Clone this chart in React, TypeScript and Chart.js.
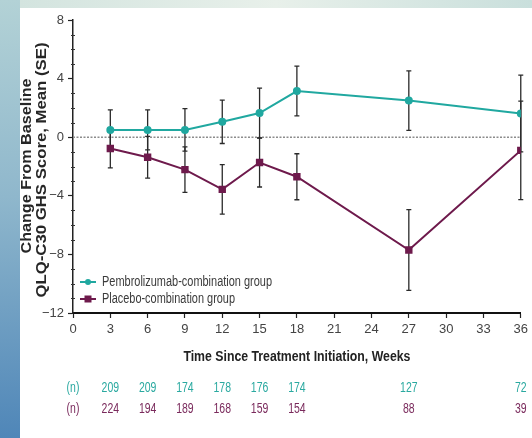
import React, { useEffect, useRef } from 'react';
import { Chart, registerables } from 'chart.js';

Chart.register(...registerables);

const weeks = [3, 6, 9, 12, 15, 18, 27, 36];
const pembroMean = [0.5, 0.5, 0.5, 1.05, 1.65, 3.15, 2.5, 1.62];
const pembroSE = [1.37, 1.37, 1.45, 1.48, 1.7, 1.7, 2.03, 2.62];
const placeboMean = [-0.77, -1.37, -2.21, -3.56, -1.73, -2.7, -7.7, -0.9];
const placeboSE = [1.33, 1.43, 1.55, 1.69, 1.67, 1.57, 2.75, 3.36];
const pembroN = ['209', '209', '174', '178', '176', '174', '127', '72'];
const placeboN = ['224', '194', '189', '168', '159', '154', '88', '39'];
const seriesLabels = ['Pembrolizumab-combination group', 'Placebo-combination group'];
const xTitle = 'Time Since Treatment Initiation, Weeks';
const yTitle = ['Change From Baseline', 'QLQ-C30 GHS Score, Mean (SE)'];

const TEAL = '#20a8a0';
const PURPLE = '#6e1a4c';
const TEAL_TXT = '#2aa9a0';
const PURPLE_TXT = '#7a2a5c';
const SANS = '"Liberation Sans", Arial, sans-serif';

function fitText(ctx: CanvasRenderingContext2D, text: string, x: number, y: number, w: number, align: CanvasTextAlign) {
  const m = ctx.measureText(text).width;
  const s = w / m;
  ctx.save();
  ctx.translate(x, y);
  ctx.scale(s, 1);
  ctx.textAlign = align;
  ctx.fillText(text, 0, 0);
  ctx.restore();
}

const overlay = {
  id: 'overlay',
  beforeDatasetsDraw(chart: any) {
    const { ctx, chartArea } = chart;
    const x = chart.scales.x;
    const y = chart.scales.y;
    const y0 = y.getPixelForValue(0);
    ctx.save();
    ctx.strokeStyle = '#8c8c8c';
    ctx.lineWidth = 1.5;
    ctx.setLineDash([2, 1.5]);
    ctx.beginPath();
    ctx.moveTo(chartArea.left, y0);
    ctx.lineTo(chartArea.right, y0);
    ctx.stroke();
    ctx.setLineDash([]);
    const groups: [number[], number[]][] = [
      [pembroMean, pembroSE],
      [placeboMean, placeboSE],
    ];
    ctx.strokeStyle = '#2a2a2a';
    ctx.lineWidth = 1.3;
    groups.forEach(([m, s]) => {
      weeks.forEach((w, i) => {
        const px = x.getPixelForValue(w);
        const top = y.getPixelForValue(m[i] + s[i]);
        const bot = y.getPixelForValue(m[i] - s[i]);
        ctx.beginPath();
        ctx.moveTo(px, top);
        ctx.lineTo(px, bot);
        ctx.moveTo(px - 2.5, top);
        ctx.lineTo(px + 2.5, top);
        ctx.moveTo(px - 2.5, bot);
        ctx.lineTo(px + 2.5, bot);
        ctx.stroke();
      });
    });
    ctx.restore();
  },
  afterDraw(chart: any) {
    const { ctx, chartArea } = chart;
    const x = chart.scales.x;
    const y = chart.scales.y;
    ctx.save();
    // minor y ticks
    ctx.strokeStyle = '#333';
    ctx.lineWidth = 1;
    for (let v = -12; v <= 8; v++) {
      if (v % 4 === 0) continue;
      const py = Math.round(y.getPixelForValue(v)) + 0.5;
      ctx.beginPath();
      ctx.moveTo(chartArea.left - 2, py);
      ctx.lineTo(chartArea.left + 2, py);
      ctx.stroke();
    }
    // legend
    const legendRows = [
      { label: seriesLabels[0], color: TEAL, y: 282, w: 170, shape: 'circle' },
      { label: seriesLabels[1], color: PURPLE, y: 299, w: 133, shape: 'rect' },
    ];
    legendRows.forEach((r) => {
      ctx.strokeStyle = r.color;
      ctx.fillStyle = r.color;
      ctx.lineWidth = 2;
      ctx.beginPath();
      ctx.moveTo(80, r.y);
      ctx.lineTo(96, r.y);
      ctx.stroke();
      ctx.beginPath();
      if (r.shape === 'circle') {
        ctx.arc(88, r.y, 3, 0, Math.PI * 2);
      } else {
        ctx.rect(84.5, r.y - 3.5, 7, 7);
      }
      ctx.fill();
      ctx.fillStyle = '#3a3a3a';
      ctx.font = '14px ' + SANS;
      ctx.textBaseline = 'middle';
      fitText(ctx, r.label, 102, r.y, r.w, 'left');
    });
    // y title
    ctx.fillStyle = '#262626';
    ctx.font = 'bold 14px ' + SANS;
    ctx.textBaseline = 'middle';
    ctx.save();
    ctx.translate(27, 166);
    ctx.rotate(-Math.PI / 2);
    fitText(ctx, yTitle[0], 0, 0, 175, 'center');
    ctx.restore();
    ctx.save();
    ctx.translate(42, 170);
    ctx.rotate(-Math.PI / 2);
    fitText(ctx, yTitle[1], 0, 0, 255, 'center');
    ctx.restore();
    // x title
    ctx.fillStyle = '#222';
    ctx.font = 'bold 14px ' + SANS;
    fitText(ctx, xTitle, (chartArea.left + chartArea.right) / 2, 357, 227, 'center');
    // n table
    ctx.font = '14px ' + SANS;
    const s = 17.5 / ctx.measureText('209').width;
    const drawN = (t: string, px: number, py: number, color: string) => {
      ctx.fillStyle = color;
      ctx.save();
      ctx.translate(px, py);
      ctx.scale(s, 1);
      ctx.textAlign = 'center';
      ctx.fillText(t, 0, 0);
      ctx.restore();
    };
    drawN('(n)', 73, 388.5, TEAL_TXT);
    drawN('(n)', 73, 409.5, PURPLE_TXT);
    weeks.forEach((w, i) => {
      const px = x.getPixelForValue(w);
      drawN(pembroN[i], px, 388.5, TEAL_TXT);
      drawN(placeboN[i], px, 409.5, PURPLE_TXT);
    });
    ctx.restore();
  },
};

export default function App() {
  const ref = useRef<HTMLCanvasElement | null>(null);
  useEffect(() => {
    if (!ref.current) return;
    const tickFont = { family: SANS, size: 13 };
    const chart = new Chart(ref.current, {
      type: 'line',
      data: {
        datasets: [
          {
            label: seriesLabels[0],
            data: weeks.map((w, i) => ({ x: w, y: pembroMean[i] })),
            borderColor: TEAL,
            backgroundColor: TEAL,
            borderWidth: 2,
            pointRadius: 3,
            pointStyle: 'circle',
            tension: 0,
          },
          {
            label: seriesLabels[1],
            data: weeks.map((w, i) => ({ x: w, y: placeboMean[i] })),
            borderColor: PURPLE,
            backgroundColor: PURPLE,
            borderWidth: 2,
            pointRadius: 3.8,
            pointStyle: 'rect',
            tension: 0,
          },
        ],
      },
      options: {
        responsive: false,
        animation: false,
        devicePixelRatio: 1,
        layout: { padding: { top: 20, right: 10, left: 0, bottom: 0 } },
        plugins: { legend: { display: false }, tooltip: { enabled: false } },
        scales: {
          x: {
            type: 'linear',
            min: 0,
            max: 36,
            ticks: { stepSize: 3, font: tickFont, color: '#444', padding: 4, maxRotation: 0 },
            grid: { drawOnChartArea: false, tickLength: 5, color: '#222', tickWidth: 1.2 },
            border: { color: '#111', width: 2 },
            afterFit(s: any) {
              s.height = 125;
            },
          },
          y: {
            min: -12,
            max: 8,
            ticks: {
              stepSize: 4,
              font: tickFont,
              color: '#444',
              padding: 4,
              callback: (v: any) => (v < 0 ? '\u2212' + Math.abs(v) : String(v)),
            },
            grid: { drawOnChartArea: false, tickLength: 5, color: '#222', tickWidth: 1.2 },
            border: { color: '#222', width: 1.5 },
            afterFit(s: any) {
              s.width = 73;
            },
          },
        },
      },
      plugins: [overlay],
    } as any);
    return () => chart.destroy();
  }, []);
  return (
    <div
      style={{
        position: 'fixed',
        left: 0,
        top: 0,
        width: 532,
        height: 438,
        overflow: 'hidden',
        background: 'linear-gradient(180deg, #b3d2d6 0%, #8fb7cc 45%, #4f86b8 100%)',
      }}
    >
      <div
        style={{
          position: 'absolute',
          left: 20,
          top: 0,
          width: 512,
          height: 8,
          background: 'linear-gradient(90deg, #d3e4df 0%, #e8f0ea 50%, #c9dfdc 100%)',
        }}
      />
      <div style={{ position: 'absolute', left: 20, top: 8, width: 512, height: 430, background: '#ffffff' }} />
      <canvas ref={ref} width={532} height={438} style={{ position: 'absolute', left: 0, top: 0 }} />
    </div>
  );
}
